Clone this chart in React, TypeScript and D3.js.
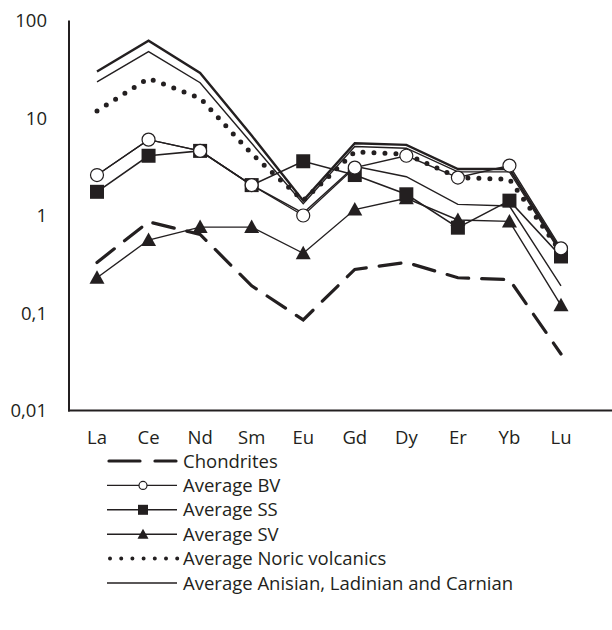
import React from "react";
import * as d3 from "d3";

const elements = ["La", "Ce", "Nd", "Sm", "Eu", "Gd", "Dy", "Er", "Yb", "Lu"];
const yTicks = [0.01, 0.1, 1, 10, 100];
const yTickLabels = ["0,01", "0,1", "1", "10", "100"];

const chondrites = [0.33, 0.86, 0.64, 0.19, 0.085, 0.28, 0.33, 0.23, 0.22, 0.038];
const averageBV = [2.6, 6.0, 4.6, 2.05, 1.0, 3.1, 4.1, 2.45, 3.25, 0.46];
const averageSS = [1.75, 4.1, 4.6, 2.05, 3.6, 2.6, 1.65, 0.75, 1.42, 0.38];
const averageSV = [0.23, 0.56, 0.76, 0.76, 0.41, 1.15, 1.5, 0.9, 0.87, 0.12];
const averageNoric = [11.8, 25.5, 16, 4.3, 1.42, 4.5, 4.25, 2.45, 2.35, 0.42];
const averageAnisianTop = [30, 62, 29, 6.6, 1.42, 5.5, 5.3, 3.0, 3.0, 0.43];
const averageAnisian = [23.5, 48, 23, 5.5, 1.32, 5.1, 4.9, 2.8, 2.8, 0.41];
const averageOther = [2.6, 6.0, 4.6, 2.05, 1.06, 3.2, 2.5, 1.3, 1.25, 0.19];

const legendLabels = [
  "Chondrites",
  "Average BV",
  "Average SS",
  "Average SV",
  "Average Noric volcanics",
  "Average Anisian, Ladinian and Carnian",
];

const INK = "#231f20";
const FONT = "'Open Sans', sans-serif";
const FONT_SIZE = 18.5;

type Marker = "none" | "circle" | "square" | "triangle";
interface Series {
  values: number[];
  width: number;
  dash?: string;
  cap?: "round" | "butt";
  marker: Marker;
}

const series: Series[] = [
  { values: averageOther, width: 1.4, marker: "none" },
  { values: averageAnisianTop, width: 2.4, marker: "none" },
  { values: averageAnisian, width: 1.4, marker: "none" },
  { values: averageNoric, width: 5, dash: "0 11", cap: "round", marker: "none" },
  { values: chondrites, width: 3.2, dash: "22 13", cap: "round", marker: "none" },
  { values: averageSV, width: 1.4, marker: "triangle" },
  { values: averageSS, width: 1.6, marker: "square" },
  { values: averageBV, width: 1.4, marker: "circle" },
];

const legendSeries: Series[] = [
  series[4],
  series[7],
  series[6],
  series[5],
  series[3],
  series[2],
];

function MarkerShape({ kind, x, y }: { kind: Marker; x: number; y: number }) {
  if (kind === "circle")
    return <circle cx={x} cy={y} r={6.5} fill="#fff" stroke={INK} strokeWidth={1.2} />;
  if (kind === "square")
    return <rect x={x - 7} y={y - 7} width={14} height={14} fill={INK} />;
  if (kind === "triangle")
    return <path d={`M${x},${y - 7.5}L${x + 7.5},${y + 6}L${x - 7.5},${y + 6}Z`} fill={INK} />;
  return null;
}

export default function App() {
  const width = 612;
  const height = 630;
  const x = d3.scalePoint<string>().domain(elements).range([97, 561]);
  const y = d3.scaleLog().domain([0.01, 100]).range([410.5, 20.5]);
  const line = d3
    .line<number>()
    .x((_, i) => x(elements[i]) as number)
    .y((v) => y(v));

  const legendTop = 461;
  const legendStep = 24.4;

  return (
    <svg
      width={width}
      height={height}
      style={{ position: "absolute", left: 0, top: 0, background: "#fff" }}
      fontFamily={FONT}
    >
      <rect width={width} height={height} fill="#fff" />
      {/* axes */}
      <line x1={69} x2={69} y1={20.5} y2={411.5} stroke={INK} strokeWidth={2} />
      <line x1={68} x2={612} y1={410.5} y2={410.5} stroke={INK} strokeWidth={2} />
      {yTicks.map((t, i) => (
        <text
          key={t}
          x={47}
          y={y(t) + 6.5}
          textAnchor="end"
          fontSize={FONT_SIZE}
          fill={INK}
        >
          {yTickLabels[i]}
        </text>
      ))}
      {elements.map((e) => (
        <text key={e} x={x(e)} y={443.5} textAnchor="middle" fontSize={FONT_SIZE} fill={INK}>
          {e}
        </text>
      ))}
      {/* series */}
      {series.map((s, si) => (
        <g key={si}>
          <path
            d={line(s.values) || ""}
            fill="none"
            stroke={INK}
            strokeWidth={s.width}
            strokeDasharray={s.dash}
            strokeLinecap={s.cap || "butt"}
            strokeLinejoin="miter"
          />
          {s.values.map((v, i) => (
            <MarkerShape key={i} kind={s.marker} x={x(elements[i]) as number} y={y(v)} />
          ))}
        </g>
      ))}
      {/* legend */}
      {legendSeries.map((s, i) => {
        const ly = legendTop + i * legendStep;
        return (
          <g key={i}>
            {s.dash === "22 13" ? (
              <>
                <line x1={109} x2={140} y1={ly} y2={ly} stroke={INK} strokeWidth={3.2} strokeLinecap="round" />
                <line x1={155} x2={176} y1={ly} y2={ly} stroke={INK} strokeWidth={3.2} strokeLinecap="round" />
              </>
            ) : s.dash ? (
              <line
                x1={110}
                x2={178}
                y1={ly}
                y2={ly}
                stroke={INK}
                strokeWidth={4}
                strokeDasharray="0 11.2"
                strokeLinecap="round"
              />
            ) : (
              <line x1={107} x2={177} y1={ly} y2={ly} stroke={INK} strokeWidth={1.4} />
            )}
            {s.marker === "circle" ? (
              <circle cx={143} cy={ly} r={4} fill="#fff" stroke={INK} strokeWidth={1.2} />
            ) : s.marker === "square" ? (
              <rect x={138} y={ly - 5} width={10} height={10} fill={INK} />
            ) : s.marker === "triangle" ? (
              <path d={`M143,${ly - 5.5}L148.5,${ly + 4.5}L137.5,${ly + 4.5}Z`} fill={INK} />
            ) : null}
            <text x={183} y={ly + 6.5} fontSize={FONT_SIZE} fill={INK}>
              {legendLabels[i]}
            </text>
          </g>
        );
      })}
    </svg>
  );
}
